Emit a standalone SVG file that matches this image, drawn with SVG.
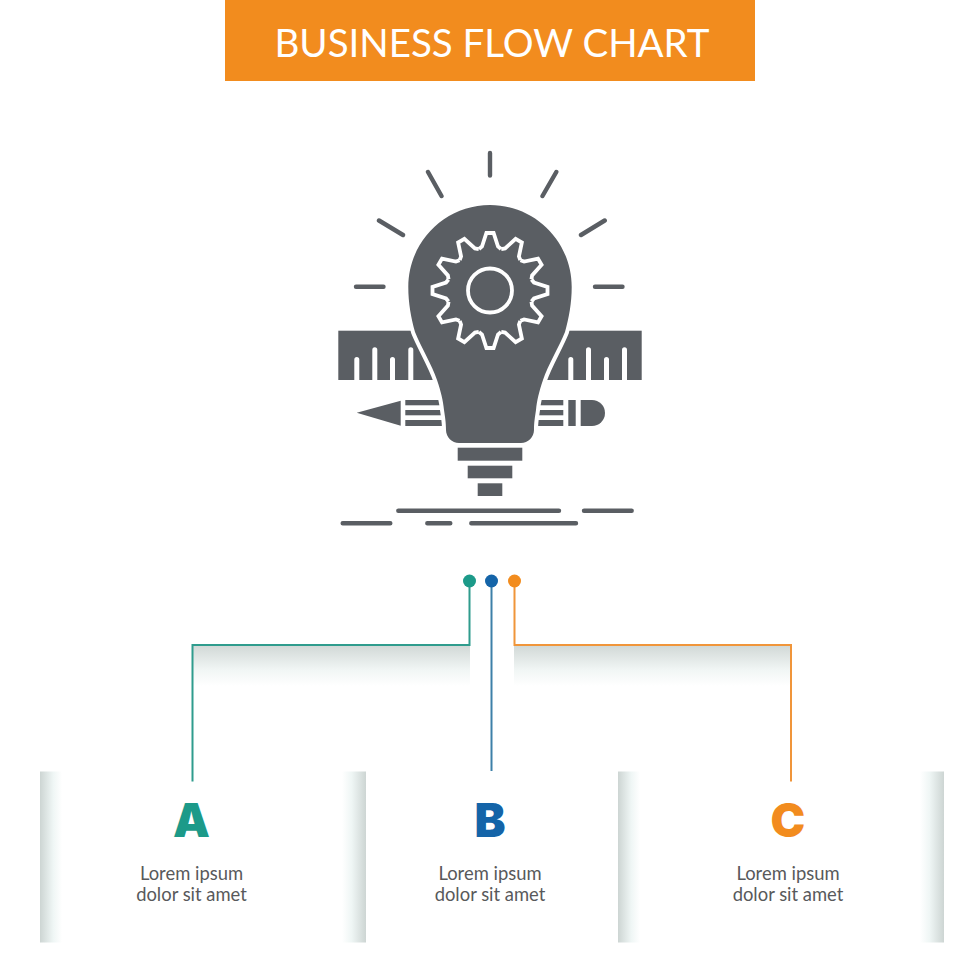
<svg xmlns="http://www.w3.org/2000/svg" width="980" height="980" viewBox="0 0 980 980">
<style>
.ic{fill:#5a5e63}
.ray{stroke:#5a5e63;stroke-width:4.4;stroke-linecap:round;fill:none}
.tick{fill:#fff}
.gear{fill:none;stroke:#fff;stroke-width:3.8;stroke-linejoin:miter}
.lbl{font-family:"Lato","Liberation Sans",sans-serif;font-size:18.4px;fill:#58595b;text-anchor:middle}
.let{font-family:"Inter","Liberation Sans",sans-serif;font-weight:900;font-size:46.5px;text-anchor:middle}
.conn{fill:none;stroke-width:2}
</style>
<defs>
<linearGradient id="gl" x1="0" x2="1" y1="0" y2="0"><stop offset="0" stop-color="#cdd5d3"/><stop offset=".6" stop-color="#eff6f5"/><stop offset="1" stop-color="#fff"/></linearGradient>
<linearGradient id="gr" x1="1" x2="0" y1="0" y2="0"><stop offset="0" stop-color="#cdd5d3"/><stop offset=".6" stop-color="#eff6f5"/><stop offset="1" stop-color="#fff"/></linearGradient>
<linearGradient id="gd" x1="0" x2="0" y1="0" y2="1"><stop offset="0" stop-color="#d2d9d7"/><stop offset=".6" stop-color="#f1f6f5"/><stop offset="1" stop-color="#fff"/></linearGradient>
<path id="tooth" class="gear" d="M-11,-41.5 L-8,-44 L-3.6,-57.5 L3.6,-57.5 L8,-44 L11,-41.5"/>
</defs>
<rect width="980" height="980" fill="#fff"/>
<g id="header">
<rect x="225" y="0" width="530" height="81" fill="#f28c1e"/>
<text x="492" y="57" font-family="Lato,'Liberation Sans',sans-serif" font-size="38.5" fill="#fff" text-anchor="middle">BUSINESS FLOW CHART</text>
</g>
<g id="icon">
<g id="rays">
<path class="ray" d="M490,153V175.5M428,172L441.5,196M556.3,172L542.5,196M379,220.5L403,235M604.7,220.5L581,235M356,286.7H383.5M595,286.7H622.5"/>
</g>
<g id="ruler">
<rect class="ic" x="338.3" y="330.7" width="303.4" height="49.3"/>
<path class="tick" d="M354.3,380V359.5a2.5,2.5 0 0 1 5,0V380ZM372.3,380V349.8a2.5,2.5 0 0 1 5,0V380ZM390,380V359.5a2.5,2.5 0 0 1 5,0V380ZM408.3,380V349.8a2.5,2.5 0 0 1 5,0V380ZM568.3,380V359.5a2.5,2.5 0 0 1 5,0V380ZM586,380V349.8a2.5,2.5 0 0 1 5,0V380ZM604,380V359.5a2.5,2.5 0 0 1 5,0V380ZM622,380V349.8a2.5,2.5 0 0 1 5,0V380Z"/>
</g>
<g id="pencil">
<path class="ic" d="M356.7,412.7L400.7,400.7V425.7Z"/>
<rect class="ic" x="405.3" y="400" width="40" height="5.3"/>
<rect class="ic" x="405.3" y="410" width="40" height="5.3"/>
<rect class="ic" x="405.3" y="420" width="40" height="6"/>
<rect class="ic" x="535" y="400" width="28.3" height="5.3"/>
<rect class="ic" x="535" y="410" width="28.3" height="5.3"/>
<rect class="ic" x="535" y="420" width="28.3" height="6"/>
<rect class="ic" x="568.3" y="400" width="7.4" height="26"/>
<path class="ic" d="M580.7,400H592a13,13 0 0 1 0,26H580.7Z"/>
</g>
<g id="bulb">
<path class="ic" stroke="#fff" stroke-width="8" paint-order="stroke" d="M490,205C445,205 408.3,241.5 408.3,287C408.3,303 411,318 415,332C421,347 432,365 437,380C441,392 443,400 444,410C445,417 446,422 446,430C446,437 452,443 459,443H521C528,443 534,437 534,430C534,422 535,417 536,410C537,400 539,392 543,380C548,365 559,347 565,332C569,318 571.7,303 571.7,287C571.7,241.5 535,205 490,205Z"/>
<rect class="ic" x="457.7" y="447.7" width="64.6" height="13"/>
<rect class="ic" x="467.7" y="465.7" width="44.6" height="12.6"/>
<rect class="ic" x="477.7" y="483.3" width="24.6" height="12.7"/>
<g id="gear" transform="translate(490 290.5)">
<use href="#tooth"/><use href="#tooth" transform="rotate(30)"/><use href="#tooth" transform="rotate(60)"/><use href="#tooth" transform="rotate(90)"/><use href="#tooth" transform="rotate(120)"/><use href="#tooth" transform="rotate(150)"/><use href="#tooth" transform="rotate(180)"/><use href="#tooth" transform="rotate(210)"/><use href="#tooth" transform="rotate(240)"/><use href="#tooth" transform="rotate(270)"/><use href="#tooth" transform="rotate(300)"/><use href="#tooth" transform="rotate(330)"/>
<circle r="22" fill="none" stroke="#fff" stroke-width="3.8"/>
</g>
</g>
<path class="ray" d="M398.3,510.7H559M584,510.7H631.7M342.7,523.3H390.3M427.3,523.3H450.3M471.3,523.3H576"/>
</g>
<g id="shadows">
<rect x="193" y="646" width="277" height="40" fill="url(#gd)"/>
<rect x="514" y="646" width="277" height="40" fill="url(#gd)"/>
</g>
<g id="connectors">
<path class="conn" stroke="#2f9c8d" d="M469.5,581V645H192.5V781.5"/>
<path class="conn" stroke="#3d80a8" d="M491.5,581V771"/>
<path class="conn" stroke="#f0953a" d="M514.5,581V645H791V781.5"/>
<circle cx="469.5" cy="581" r="6.5" fill="#1c9a89"/>
<circle cx="491.5" cy="581" r="6.5" fill="#1464a8"/>
<circle cx="514.5" cy="581" r="6.5" fill="#f28c1e"/>
</g>
<g id="node-a">
<rect x="40" y="771.5" width="22" height="171" fill="url(#gl)"/>
<rect x="342" y="771.5" width="24" height="171" fill="url(#gr)"/>
<text class="let" x="191.5" y="837" fill="#1c9a89">A</text>
<text class="lbl" x="191.5" y="880">Lorem ipsum</text>
<text class="lbl" x="191.5" y="901">dolor sit amet</text>
</g>
<g id="node-b">
<text class="let" x="490" y="837" fill="#1464a8">B</text>
<text class="lbl" x="490" y="880">Lorem ipsum</text>
<text class="lbl" x="490" y="901">dolor sit amet</text>
</g>
<g id="node-c">
<rect x="618" y="771.5" width="22" height="171" fill="url(#gl)"/>
<rect x="920" y="771.5" width="24" height="171" fill="url(#gr)"/>
<text class="let" x="788" y="837" fill="#f28c1e">C</text>
<text class="lbl" x="788" y="880">Lorem ipsum</text>
<text class="lbl" x="788" y="901">dolor sit amet</text>
</g>
</svg>
